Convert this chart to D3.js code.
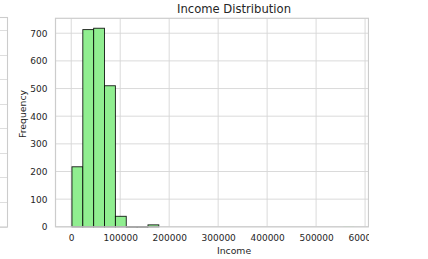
<!DOCTYPE html>
<html>
<head>
<meta charset="utf-8">
<script src="https://cdn.jsdelivr.net/npm/d3@7"></script>
<style>
  html, body { margin: 0; padding: 0; background: #fff; }
  svg { display: block; font-family: "DejaVu Sans", sans-serif; }
</style>
</head>
<body>
<svg id="chart" width="428" height="259"></svg>
<script>
// ---- data ----
const title = "Income Distribution";
const xLabel = "Income";
const yLabel = "Frequency";
const binStart = 1500;
const binEnd = 578000;
const counts = [217, 713, 718, 510, 38, 1, 1, 7, 0, 0, 0, 0, 0, 0, 0, 0, 0, 0, 0, 0, 0, 0, 0, 0, 0, 1];
const xTicks = [0, 100000, 200000, 300000, 400000, 500000, 600000];
const yTicks = [0, 100, 200, 300, 400, 500, 600, 700];

(function () {
// ---- layout ----
const svg = d3.select("#chart");
const mLeft = 55.5, mRight = 368.5, mTop = 18.3, mBottom = 226.8;
const clipRight = 369;
const gridColor = "#d6d6d6";
const spineColor = "#cccccc";
const textColor = "#262626";

const binW = (binEnd - binStart) / counts.length;
const bins = counts.map((c, i) => ({ i: i, x0: binStart + i * binW, x1: binStart + (i + 1) * binW, n: c }));

const x = d3.scaleLinear().domain([-32100, 607000]).range([mLeft, mRight]);
const yMax = d3.max(counts) * 1.05;
const y = d3.scaleLinear().domain([0, yMax]).range([mBottom, mTop]);

svg.append("defs").append("clipPath").attr("id", "pageclip")
  .append("rect").attr("x", -5).attr("y", -5).attr("width", clipRight + 5).attr("height", 270);

const root = svg.append("g").attr("clip-path", "url(#pageclip)");

// partial neighbouring panel at far left
const ghost = root.append("g");
ghost.selectAll("line.g").data(d3.range(0, 9)).join("line")
  .attr("x1", -10).attr("x2", 7.3)
  .attr("y1", d => Math.round(226.5 - (226.5 - 30) * d / 8) + 0.5)
  .attr("y2", d => Math.round(226.5 - (226.5 - 30) * d / 8) + 0.5)
  .attr("stroke", gridColor).attr("stroke-width", 0.8);
ghost.append("rect").attr("x", -10).attr("y", 17.5).attr("width", 17.5).attr("height", 209.5)
  .attr("fill", "none").attr("stroke", spineColor).attr("stroke-width", 1.1);

// grid
const g = root.append("g");
g.selectAll("line.xg").data(xTicks).join("line")
  .attr("x1", d => x(d)).attr("x2", d => x(d))
  .attr("y1", mTop).attr("y2", mBottom)
  .attr("stroke", gridColor).attr("stroke-width", 0.9);
g.selectAll("line.yg").data(yTicks).join("line")
  .attr("x1", mLeft).attr("x2", mRight)
  .attr("y1", d => y(d)).attr("y2", d => y(d))
  .attr("stroke", gridColor).attr("stroke-width", 0.9);

// bars
const main = bins.filter(d => d.i < 10);
const tail = bins.filter(d => d.i >= 10 && d.n > 0);
g.selectAll("rect.bar").data(main).join("rect")
  .attr("x", d => x(d.x0)).attr("width", d => x(d.x1) - x(d.x0))
  .attr("y", d => y(d.n)).attr("height", d => y(0) - y(d.n))
  .attr("fill", "#90ee90").attr("stroke", "#000").attr("stroke-width", 0.9)
  .attr("stroke-opacity", d => d.n > 0 ? 0.9 : 0);
g.selectAll("rect.tail").data(tail).join("rect")
  .attr("x", d => x(d.x0)).attr("width", d => x(d.x1) - x(d.x0))
  .attr("y", d => y(d.n)).attr("height", d => y(0) - y(d.n))
  .attr("fill", "#90ee90").attr("stroke", "none");

// baseline edges for near-empty bins
g.selectAll("line.base").data(main.filter(d => d.n > 0 && d.n < 3)).join("line")
  .attr("x1", d => x(d.x0)).attr("x2", d => x(d.x1))
  .attr("y1", mBottom).attr("y2", mBottom).attr("stroke", "#222").attr("stroke-width", 0.9);

// spines
g.append("rect").attr("x", mLeft).attr("y", mTop).attr("width", mRight - mLeft).attr("height", mBottom - mTop)
  .attr("fill", "none").attr("stroke", spineColor).attr("stroke-width", 1.2);

// axes
const xAxis = d3.axisBottom(x).tickValues(xTicks).tickSize(0).tickPadding(8).tickFormat(d3.format("d"));
const xa = g.append("g").attr("transform", `translate(0,${mBottom})`).call(xAxis);
const yAxis = d3.axisLeft(y).tickValues(yTicks).tickSize(0).tickPadding(8).tickFormat(d3.format("d"));
const ya = g.append("g").attr("transform", `translate(${mLeft},0)`).call(yAxis);
[xa, ya].forEach(a => {
  a.select(".domain").remove();
  a.selectAll("text").attr("fill", textColor).style("font-size", "9px").style("font-family", "DejaVu Sans, sans-serif");
});

// labels
g.append("text").attr("x", 234).attr("y", 12.7).attr("text-anchor", "middle")
  .attr("fill", textColor).style("font-size", "11.6px").text(title);
g.append("text").attr("x", 234).attr("y", 254).attr("text-anchor", "middle")
  .attr("fill", textColor).style("font-size", "9.3px").text(xLabel);
g.append("text").attr("transform", "translate(25.8,114) rotate(-90)").attr("text-anchor", "middle")
  .attr("fill", textColor).style("font-size", "9.3px").text(yLabel);
})();
</script>
</body>
</html>
